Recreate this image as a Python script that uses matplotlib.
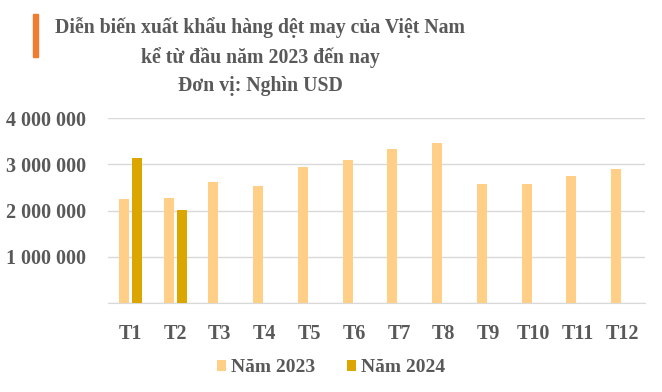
import matplotlib
matplotlib.use("Agg")
import matplotlib.pyplot as plt
import numpy as np
from matplotlib.patches import Rectangle

categories = ["T1", "T2", "T3", "T4", "T5", "T6", "T7", "T8", "T9", "T10", "T11", "T12"]
values_2023 = [2240000, 2280000, 2610000, 2540000, 2930000, 3090000, 3330000, 3460000, 2570000, 2570000, 2740000, 2890000]
values_2024 = [3130000, 2020000]
yticks = [1000000, 2000000, 3000000, 4000000]
ytick_labels = ["1 000 000", "2 000 000", "3 000 000", "4 000 000"]

plt.rcParams['font.family'] = ['Liberation Serif', 'DejaVu Serif']
text_color = "#595959"
c2023 = "#FFCF87"
c2024 = "#DCA600"

fig = plt.figure(figsize=(6.62, 3.92), dpi=100)
ax = fig.add_axes([108/662, 1 - 303/392, 537/662, (303-118)/392])

x = np.arange(len(categories))
w = 0.22
off = 0.145
ax.bar(x - off, values_2023, width=w, color=c2023, label="Năm 2023", zorder=3)
ax.bar(x[:len(values_2024)] + off, values_2024, width=w, color=c2024, label="Năm 2024", zorder=3)

ax.set_xlim(-0.5, len(categories) - 0.5)
ax.set_ylim(0, 4000000)
ax.set_yticks([0] + yticks)
ax.set_yticklabels([""] + ytick_labels)
ax.set_xticks(x)
ax.set_xticklabels(categories)
ax.yaxis.grid(True, color="#D9D9D9", linewidth=1, zorder=0)
ax.set_axisbelow(True)
for s in ["top", "right", "left"]:
    ax.spines[s].set_visible(False)
ax.spines["bottom"].set_color("#D9D9D9")
ax.tick_params(axis="both", length=0, colors=text_color)
ax.tick_params(axis="x", labelsize=14.5, pad=15)
ax.tick_params(axis="y", labelsize=14.5, pad=16)
for lab in ax.get_xticklabels() + ax.get_yticklabels():
    lab.set_fontweight("bold")

title_lines = ["Diễn biến xuất khẩu hàng dệt may của Việt Nam",
               "kể từ đầu năm 2023 đến nay",
               "Đơn vị: Nghìn USD"]
baselines = [33, 63, 91]
for line, b in zip(title_lines, baselines):
    fig.text(260/662, 1 - b/392, line, ha="center", va="baseline",
             fontsize=14.2, fontweight="bold", color=text_color)
fig.patches.append(Rectangle((33/662, 1 - 57/392), 5/662, 43/392, transform=fig.transFigure,
                             color="#ED7D31", figure=fig))

leg = fig.legend(loc="center", bbox_to_anchor=(0.5, 1 - 368/392), ncol=2, frameon=False,
                 handlelength=0.5, handleheight=0.5, handletextpad=0.25, columnspacing=1.6,
                 prop={"weight": "bold", "size": 14})
for t in leg.get_texts():
    t.set_color(text_color)

fig.savefig("out.png", dpi=100)
